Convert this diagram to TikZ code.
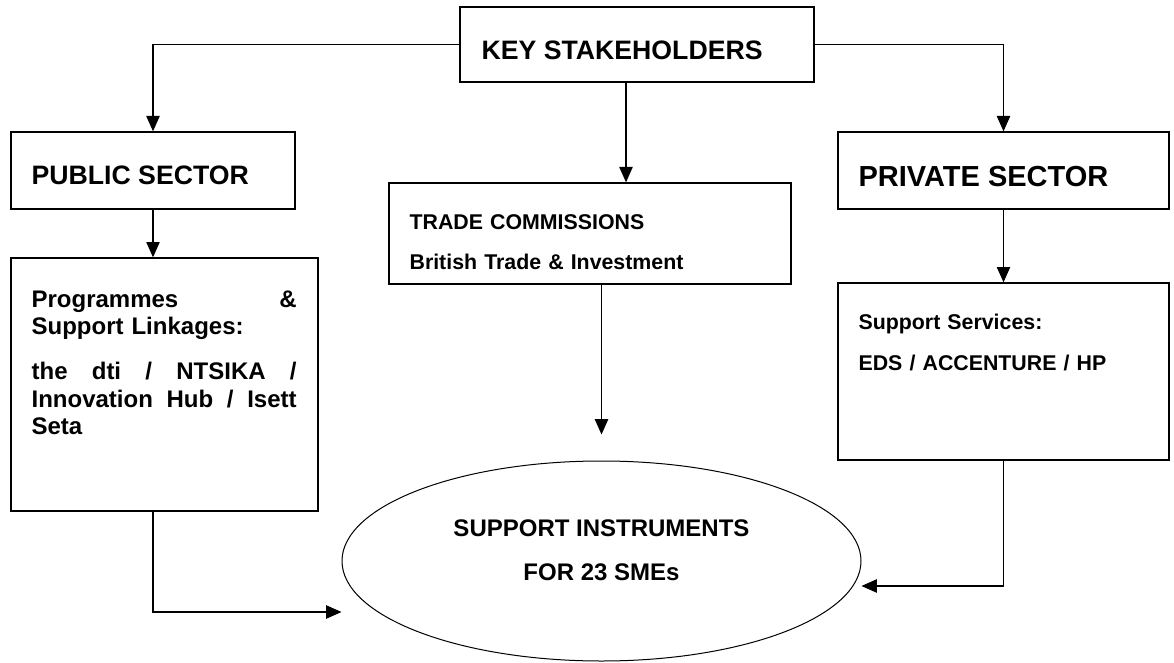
\documentclass[tikz,border=0pt]{standalone}
\usepackage{fontspec}
\setmainfont{Liberation Sans}
\usetikzlibrary{arrows.meta,calc,shapes.geometric}
\tikzset{
  panel/.style={draw,rectangle,line width=1pt,inner sep=0pt},
  blob/.style={draw,ellipse,line width=0.75pt,inner sep=0pt},
  link/.style={-{Triangle[length=11.5pt,width=10pt]},line width=0.9pt},
  lbl/.style={inner sep=0pt,anchor=base west,align=left}
}

\begin{document}
\begin{tikzpicture}[x=0.75pt,y=-0.75pt]
\useasboundingbox (0,0) rectangle (1174,663);
\node[panel,minimum width=265.5pt,minimum height=56.25pt] (key) at (637,44.5) {};
\node[lbl,font=\bfseries\fontsize{20}{24}\selectfont] (keyT) at ($(key.north west)+(22,53)$) {KEY STAKEHOLDERS};
\node[panel,minimum width=213pt,minimum height=57.75pt] (pub) at (153,170.5) {};
\node[lbl,font=\bfseries\fontsize{20}{24}\selectfont] (pubT) at ($(pub.north west)+(21,53)$) {PUBLIC SECTOR};
\node[panel,minimum width=248.25pt,minimum height=57.75pt] (priv) at (1003.5,170.5) {};
\node[lbl,font=\bfseries\fontsize{21.75}{26}\selectfont] (privT) at ($(priv.north west)+(21,55)$) {PRIVATE SECTOR};
\node[panel,minimum width=301.5pt,minimum height=75.75pt] (trade) at (590,233.5) {};
\node[lbl,text width=280pt,font=\bfseries\fontsize{16}{30}\selectfont] (tradeT) at ($(trade.north west)+(21,47)$) {TRADE COMMISSIONS\\British Trade \& Investment};
\node[panel,minimum width=230.25pt,minimum height=189.75pt] (prog) at (164.5,384.5) {};
\node[lbl,text width=198.75pt,font=\bfseries\fontsize{18}{20.6}\selectfont] (progT) at ($(prog.north west)+(21,50)$)
  {Programmes\hfill\&\\Support Linkages:\\[13pt]the\hfill dti\hfill /\hfill NTSIKA\hfill /\\Innovation\hfill Hub\hfill /\hfill Isett\\Seta};
\node[panel,minimum width=248.25pt,minimum height=132.75pt] (serv) at (1003.5,371.5) {};
\node[lbl,text width=230pt,font=\bfseries\fontsize{16}{30.75}\selectfont] (servT) at ($(serv.north west)+(21,47)$) {Support Services:\\EDS / ACCENTURE / HP};
\node[blob,minimum width=389.25pt,minimum height=150pt] (sme) at (601.5,561) {};
\node[lbl,anchor=base,align=center,font=\bfseries\fontsize{18}{33}\selectfont] (smeT) at ($(sme.center)+(0,19)$) {SUPPORT INSTRUMENTS\\FOR 23 SMEs};
% free ends near the ellipse
\coordinate (tradetip) at ($(sme.north)+(0,-26)$);
\coordinate (progtip) at ($(sme.west)+(0,51)$);
\coordinate (servtip) at ($(sme.east)+(0,25)$);
\draw[link] (key.west) -| (pub.north);
\draw[link] (key.east) -| (priv.north);
\draw[link] ($(key.south)+(-11,0)$) -- ($(key.south |- trade.north)+(-11,0)$);
\draw[link] (pub.south) -- (pub.south |- prog.north);
\draw[link] (priv.south) -- (priv.south |- serv.north);
\draw[link] (trade.south -| sme.north) -- (tradetip);
\draw[link] (pub.south |- prog.south) |- (progtip);
\draw[link] (priv.south |- serv.south) |- (servtip);
\end{tikzpicture}
\end{document}
